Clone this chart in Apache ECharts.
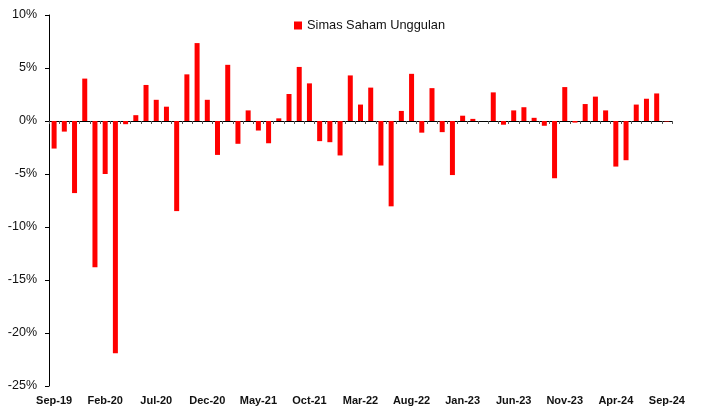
<!DOCTYPE html>
<html><head><meta charset="utf-8">
<script src="https://cdn.jsdelivr.net/npm/echarts@6/dist/echarts.min.js"></script>
<style>html,body{margin:0;padding:0;background:#fff}#c{width:701px;height:409px}</style>
</head><body><div id="c"></div>
<script>
const months = ['Sep-19','Oct-19','Nov-19','Dec-19','Jan-20','Feb-20','Mar-20','Apr-20','May-20','Jun-20','Jul-20','Aug-20','Sep-20','Oct-20','Nov-20','Dec-20','Jan-21','Feb-21','Mar-21','Apr-21','May-21','Jun-21','Jul-21','Aug-21','Sep-21','Oct-21','Nov-21','Dec-21','Jan-22','Feb-22','Mar-22','Apr-22','May-22','Jun-22','Jul-22','Aug-22','Sep-22','Oct-22','Nov-22','Dec-22','Jan-23','Feb-23','Mar-23','Apr-23','May-23','Jun-23','Jul-23','Aug-23','Sep-23','Oct-23','Nov-23','Dec-23','Jan-24','Feb-24','Mar-24','Apr-24','May-24','Jun-24','Jul-24','Aug-24','Sep-24'];
const returns = [-2.6,-1.0,-6.8,4.0,-13.8,-5.0,-21.9,-0.3,0.55,3.4,2.0,1.35,-8.5,4.4,7.35,2.0,-3.2,5.3,-2.15,1.0,-0.9,-2.1,0.25,2.55,5.1,3.55,-1.9,-2.0,-3.25,4.3,1.55,3.15,-4.2,-8.05,0.95,4.45,-1.1,3.1,-1.05,-5.1,0.5,0.2,0.0,2.7,-0.35,1.0,1.3,0.3,-0.45,-5.4,3.2,-0.15,1.6,2.3,1.0,-4.3,-3.7,1.55,2.1,2.6,-0.05];
const yTicks = {min:-25, max:10, step:5};
const seriesName = 'Simas Saham Unggulan';

const chart = echarts.init(document.getElementById('c'), null, {renderer:'canvas'});
const g = {left:49, right:29, top:15, bottom:23};
chart.setOption({
  animation:false,
  legend:{data:[seriesName], left:289, top:14, itemWidth:8, itemHeight:8, icon:'rect', padding:5,
    textStyle:{fontFamily:'Liberation Sans', fontSize:12.8, color:'#111'}},
  grid:[Object.assign({},g), Object.assign({},g)],
  xAxis:[
    {type:'category', gridIndex:0, data:months, boundaryGap:true,
     axisLine:{show:false}, axisTick:{show:false},
     axisLabel:{interval:4, fontFamily:'Liberation Sans', fontWeight:'bold', fontSize:11, color:'#111', margin:9}},
    {type:'category', gridIndex:1, data:months, boundaryGap:true,
     axisLine:{show:true, onZero:true, lineStyle:{color:'#000', width:1}},
     axisTick:{show:true, interval:0, length:3, lineStyle:{color:'#555'}},
     axisLabel:{show:false}}
  ],
  yAxis:[
    {type:'value', gridIndex:0, min:yTicks.min, max:yTicks.max, interval:yTicks.step,
     axisLine:{show:true, lineStyle:{color:'#000', width:1}},
     axisTick:{show:true, length:4, lineStyle:{color:'#000'}},
     splitLine:{show:false},
     axisLabel:{formatter:'{value}%', fontFamily:'Liberation Sans', fontSize:12.5, color:'#111', margin:12}},
    {type:'value', gridIndex:1, min:yTicks.min, max:yTicks.max, interval:yTicks.step, show:false, splitLine:{show:false}}
  ],
  series:[{name:seriesName, type:'bar', xAxisIndex:0, yAxisIndex:0, data:returns,
    barWidth:5, itemStyle:{color:'#ff0000'}}]
});
</script></body></html>
